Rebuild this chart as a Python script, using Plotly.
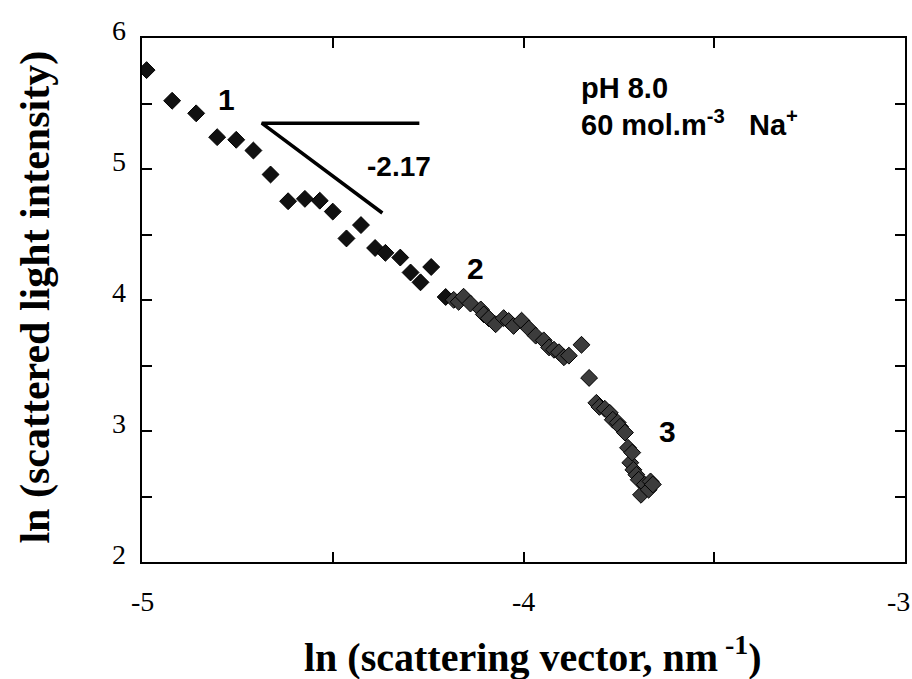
import plotly.graph_objects as go

# ln(q) and ln(I) readings
ln_q = [-4.988, -4.921, -4.858, -4.803, -4.753, -4.708, -4.663, -4.617, -4.573, -4.534,
        -4.500, -4.464, -4.426, -4.389, -4.362, -4.323, -4.296, -4.270, -4.242, -4.204,
        -4.183, -4.170, -4.157, -4.139, -4.112, -4.104, -4.091, -4.073, -4.052, -4.039,
        -4.026, -4.005, -3.986, -3.968, -3.947, -3.933, -3.920, -3.907, -3.894, -3.881,
        -3.848, -3.828, -3.809, -3.801, -3.787, -3.774, -3.766, -3.753, -3.747, -3.734,
        -3.726, -3.720, -3.715, -3.712, -3.704, -3.698, -3.692, -3.682, -3.672, -3.667,
        -3.661]
ln_i = [5.755, 5.521, 5.425, 5.243, 5.223, 5.141, 4.958, 4.754, 4.772, 4.758,
        4.675, 4.470, 4.572, 4.397, 4.360, 4.324, 4.210, 4.135, 4.252, 4.023,
        4.001, 3.986, 4.025, 3.973, 3.928, 3.890, 3.860, 3.815, 3.862, 3.840,
        3.802, 3.842, 3.782, 3.728, 3.692, 3.638, 3.620, 3.601, 3.563, 3.575,
        3.658, 3.405, 3.215, 3.184, 3.170, 3.139, 3.086, 3.064, 3.033, 2.988,
        2.872, 2.758, 2.835, 2.704, 2.666, 2.628, 2.513, 2.591, 2.552, 2.615,
        2.592]

# tick marks every 0.5, numbers on whole units
x_ticks = [-5, -4.5, -4, -3.5, -3]
x_label_vals = [-5, -4, -3]
x_label_text = ["-5", "-4", "-3"]
y_ticks = [2, 2.5, 3, 3.5, 4, 4.5, 5, 5.5, 6]
y_label_vals = [2, 3, 4, 5, 6]
y_label_text = ["2", "3", "4", "5", "6"]

# slope guide
slope = -2.17
slope_label = "-2.17"
guide_x0, guide_y0 = -4.686, 5.35
guide_x_horiz = -4.273
guide_x_diag = -4.37

region_labels = ["1", "2", "3"]
region_x = [-4.778, -4.127, -3.622]
region_y = [5.529, 4.242, 3.0]

serif = "Liberation Serif"
sans = "Liberation Sans"

fig = go.Figure()

colors = ["#111111" if q < -4.2 else "#3c3c3c" for q in ln_q]
fig.add_trace(go.Scatter(
    x=ln_q, y=ln_i, mode="markers",
    marker=dict(symbol="diamond", size=13, color=colors,
                line=dict(color="#000000", width=1)),
    showlegend=False, hoverinfo="x+y"))

# slope triangle: horizontal reference and line of slope -2.17
fig.add_trace(go.Scatter(
    x=[guide_x_horiz, guide_x0, guide_x_diag],
    y=[guide_y0, guide_y0, guide_y0 + slope * (guide_x_diag - guide_x0)],
    mode="lines", line=dict(color="#000000", width=3.5),
    showlegend=False, hoverinfo="skip"))

tick_font = dict(family=serif, size=28, color="#000000")
annotations = []
# axis numbers (the last one is kept inside the page edge)
for i, (v, t) in enumerate(zip(x_label_vals, x_label_text)):
    last = i == len(x_label_vals) - 1
    annotations.append(dict(x=v, xref="x", y=0, yref="paper", text=t,
                            showarrow=False, font=tick_font,
                            xanchor="right" if last else "center",
                            xshift=7 if last else 0,
                            yanchor="top", yshift=-22))
for v, t in zip(y_label_vals, y_label_text):
    annotations.append(dict(x=0, xref="paper", y=v, yref="y", text=t,
                            showarrow=False, font=tick_font,
                            xanchor="right", yanchor="middle", xshift=-14, yshift=8))

for t, ax_, ay_ in zip(region_labels, region_x, region_y):
    annotations.append(dict(x=ax_, y=ay_, text="<b>" + t + "</b>", showarrow=False,
                            font=dict(family=sans, size=30, color="#000000"),
                            xanchor="center", yanchor="middle"))
annotations.append(dict(x=-4.327, y=5.016, text="<b>" + slope_label + "</b>",
                        showarrow=False,
                        font=dict(family=sans, size=28, color="#000000"),
                        xanchor="center", yanchor="middle"))
annotations.append(dict(x=-3.855, y=5.62, text="<b>pH 8.0</b>", showarrow=False,
                        font=dict(family=sans, size=29, color="#000000"),
                        xanchor="left", yanchor="middle"))
annotations.append(dict(x=-3.855, y=5.35,
                        text="<b>60 mol.m<sup>-3</sup>   Na<sup>+</sup></b>",
                        showarrow=False,
                        font=dict(family=sans, size=29, color="#000000"),
                        xanchor="left", yanchor="middle"))
# axis titles
annotations.append(dict(xref="paper", yref="paper", x=0.512, y=-0.176,
                        text="<b>ln (scattering vector, nm<sup> -1</sup>)</b>",
                        showarrow=False,
                        font=dict(family=serif, size=40, color="#000000"),
                        xanchor="center", yanchor="middle"))
annotations.append(dict(xref="paper", yref="paper", x=-0.14, y=0.505,
                        text="<b>ln (scattered light intensity)</b>",
                        showarrow=False, textangle=-90,
                        font=dict(family=serif, size=42, color="#000000"),
                        xanchor="center", yanchor="middle"))

fig.update_layout(
    template="none",
    width=912, height=679,
    margin=dict(l=142, r=7, t=38, b=117),
    paper_bgcolor="white", plot_bgcolor="white",
    font=dict(family=serif, size=28, color="#000000"),
    annotations=annotations,
)

fig.update_xaxes(range=[-5, -3], tickmode="array", tickvals=x_ticks,
                 showticklabels=False, automargin=False,
                 showline=True, linecolor="#000000", linewidth=2, mirror="ticks",
                 ticks="inside", ticklen=10, tickwidth=2, tickcolor="#000000",
                 showgrid=False, zeroline=False)
fig.update_yaxes(range=[2, 6], tickmode="array", tickvals=y_ticks,
                 showticklabels=False, automargin=False,
                 showline=True, linecolor="#000000", linewidth=2, mirror="ticks",
                 ticks="inside", ticklen=10, tickwidth=2, tickcolor="#000000",
                 showgrid=False, zeroline=False)

fig.write_html("out.html")
